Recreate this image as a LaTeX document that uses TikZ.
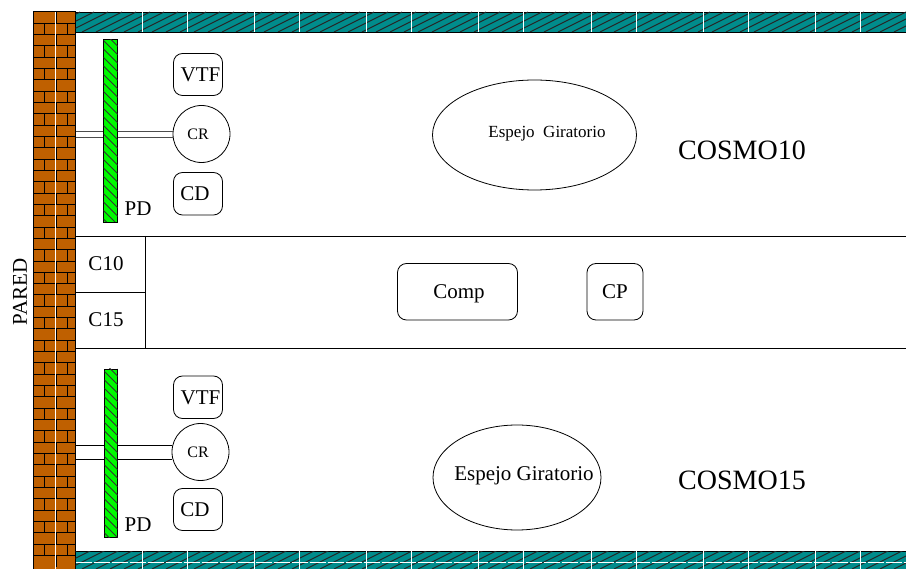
\documentclass[tikz,border=0pt]{standalone}
\usepackage{fontspec}
\setmainfont{Liberation Serif}
\usetikzlibrary{positioning,shapes}
\definecolor{ladrillo}{RGB}{191,96,0}
\definecolor{verdoso}{RGB}{0,140,140}
\definecolor{verde}{RGB}{0,250,0}
\tikzstyle{block} = [rectangle, draw, line width=0.8pt, fill=white, rounded corners=9pt, outer sep=0pt, inner sep=0pt, text depth=0pt, font=\fontsize{21}{21}\selectfont]
\tikzstyle{sensor} = [circle, draw, line width=0.8pt, fill=white, minimum size=57pt, outer sep=0pt, inner sep=0pt, text depth=0pt, font=\fontsize{16}{16}\selectfont]
\tikzstyle{espejo} = [ellipse, draw, line width=0.8pt, outer sep=0pt, inner sep=0pt]
\tikzstyle{rotulo} = [inner sep=0pt, text depth=0pt, font=\fontsize{21}{21}\selectfont]
\tikzstyle{cosmo} = [inner sep=0pt, text depth=0pt, font=\fontsize{28}{28}\selectfont]
\tikzstyle{line} = [draw, line width=0.8pt]
\tikzstyle{muro} = [rectangle, draw=black, line width=1pt, outer sep=0pt, inner sep=0pt, fill=ladrillo]
\tikzstyle{banda} = [rectangle, draw=black, line width=0.8pt, outer sep=0pt, inner sep=0pt, fill=verdoso, minimum width=830.5pt]
\tikzstyle{barra} = [rectangle, draw=black, line width=0.8pt, outer sep=0pt, inner sep=0pt, fill=verde]
\begin{document}
\begin{tikzpicture}[x=1pt, y=-1pt]
      \useasboundingbox (0,0) rectangle (906,569);
      % Wall and bands
      \node [muro, minimum width=42.5pt, minimum height=557pt] (pared) at (54.25,290.5) {};
      \foreach \fila in {0,...,48} {
        \draw [line width=1pt] (33,{12+11.32*\fila}) -- (75.5,{12+11.32*\fila});
      }
      \foreach \fila in {0,2,...,48} {
        \draw [line width=1pt] (56.5,{12+11.32*\fila}) -- (56.5,{23.32+11.32*\fila});
      }
      \foreach \fila in {1,3,...,47} {
        \draw [line width=1pt] (44.5,{12+11.32*\fila}) -- (44.5,{23.32+11.32*\fila});
        \draw [line width=1pt] (67.7,{12+11.32*\fila}) -- (67.7,{23.32+11.32*\fila});
      }
      \draw [white, line width=0.9pt] (55.4,12) -- (55.4,569);
      \node [banda, minimum height=20pt, anchor=west] (techo) at (75.5,22) {};
      \node [banda, minimum height=18pt, anchor=west] (suelo) at (75.5,560) {};
      \begin{scope}
        \clip (75.5,12) rectangle (906,32);
        \foreach \x in {40,54,...,920} { \draw [line width=1.1pt, black!85] (\x,32) -- ++(40,-20); }
      \end{scope}
      \begin{scope}
        \clip (75.5,551) rectangle (906,569);
        \foreach \x in {40,54,...,920} { \draw [line width=1.1pt, black!85] (\x,569) -- ++(40,-20); }
      \end{scope}
      \foreach \x in {142,254.3,366.6,478.9,591.2,703.5,815.8} {
        \draw [white, line width=0.9pt] (\x,12) -- (\x,32);
        \draw [white, line width=0.9pt] ({\x+45},12) -- ({\x+45},32);
        \draw [white, line width=0.9pt] (\x,551) -- (\x,569);
        \draw [white, line width=0.9pt] ({\x+45},551) -- ({\x+45},569);
      }
      \draw [white, line width=0.9pt, dash pattern=on 16pt off 2pt] (75.5,562) -- (906,562);
      % Nodes COSMO10
      \node [block, minimum width=49pt, minimum height=42pt] (vtf10) at (198,74.5) {\hspace*{5pt}VTF};
      \node [sensor, below=10pt of vtf10, xshift=3.5pt] (cr10) {CR\hspace*{7pt}};
      \node [block, minimum width=49pt, minimum height=42.5pt, below=10pt of cr10, xshift=-3.5pt] (cd10) {CD\hspace*{6pt}};
      \node [rotulo] (pd10) at (138,208.5) {PD};
      \node [espejo, minimum width=204pt, minimum height=110pt] (giro10) at (534.5,135) {};
      \node [inner sep=0pt, text depth=0pt, font=\fontsize{17}{17}\selectfont] (txt10) at (547,132) {Espejo\ \ Giratorio};
      \node [cosmo] (cosmo10) at (742,150) {COSMO10};
      % Nodes COSMO15
      \node [block, minimum width=49pt, minimum height=42.5pt] (vtf15) at (198,397.25) {\hspace*{5pt}VTF};
      \node [sensor, below=5pt of vtf15, xshift=2.5pt] (cr15) {CR\hspace*{5pt}};
      \node [block, minimum width=49pt, minimum height=42pt, below=8pt of cr15, xshift=-2.5pt] (cd15) {CD\hspace*{6pt}};
      \node [rotulo] (pd15) at (138,524.5) {PD};
      \node [espejo, minimum width=168pt, minimum height=105pt] (giro15) at (517,477.5) {};
      \node [inner sep=0pt, text depth=0pt, font=\fontsize{21}{21}\selectfont] (txt15) at (524,474) {Espejo Giratorio};
      \node [cosmo] (cosmo15) at (742,480) {COSMO15};
      % Middle corridor
      \coordinate (a1) at (pared.east |- 0,236);
      \coordinate (a2) at (906,236);
      \coordinate (b1) at (pared.east |- 0,348.5);
      \coordinate (b2) at (906,348.5);
      \coordinate (c2) at (145.5,292);
      \coordinate (c1) at (pared.east |- c2);
      \coordinate (d1) at (145.5,236);
      \coordinate (d2) at (145.5,348.5);
      \node [rotulo] (c10) at (106,264) {C10};
      \node [rotulo] (c15) at (106,320) {C15};
      \node [block, minimum width=120pt, minimum height=56.5pt] (comp) at (457.5,291.75) {\hspace*{3pt}Comp};
      \node [block, minimum width=56pt, minimum height=56.5pt] (cp) at (615,291.75) {CP};
      \node [rotulo, rotate=90] (rpared) at (20,292) {PARED};
      % Draw edges
      \path [line] (a1) -- (a2);
      \path [line] (b1) -- (b2);
      \path [line] (c1) -- (c2);
      \path [line] (d1) -- (d2);
      \path [line, black!70] ([yshift=3pt]pared.east |- cr10.west) -- ([yshift=3pt]cr10.west);
      \path [line, black!70] ([yshift=-3pt]pared.east |- cr10.west) -- ([yshift=-3pt]cr10.west);
      \path [line] ([yshift=7pt]pared.east |- cr15.west) -- ([yshift=7pt]cr15.west);
      \path [line] ([yshift=-7pt]pared.east |- cr15.west) -- ([yshift=-7pt]cr15.west);
      % Green bars
      \node [barra, minimum width=14pt, minimum height=182.5pt] (pd1) at (110.5,130.75) {};
      \node [barra, minimum width=13pt, minimum height=168.5pt] (pd2) at (111,453.25) {};
      \begin{scope}
        \clip (pd1.south west) rectangle (pd1.north east);
        \foreach \y in {20,28.5,...,230} { \draw [line width=1pt, black!80] (100,\y) -- ++(22,22); }
      \end{scope}
      \begin{scope}
        \clip (pd2.south west) rectangle (pd2.north east);
        \foreach \y in {350,358.5,...,540} { \draw [line width=1pt, black!80] (100,\y) -- ++(22,22); }
      \end{scope}
  \end{tikzpicture}
\end{document}
